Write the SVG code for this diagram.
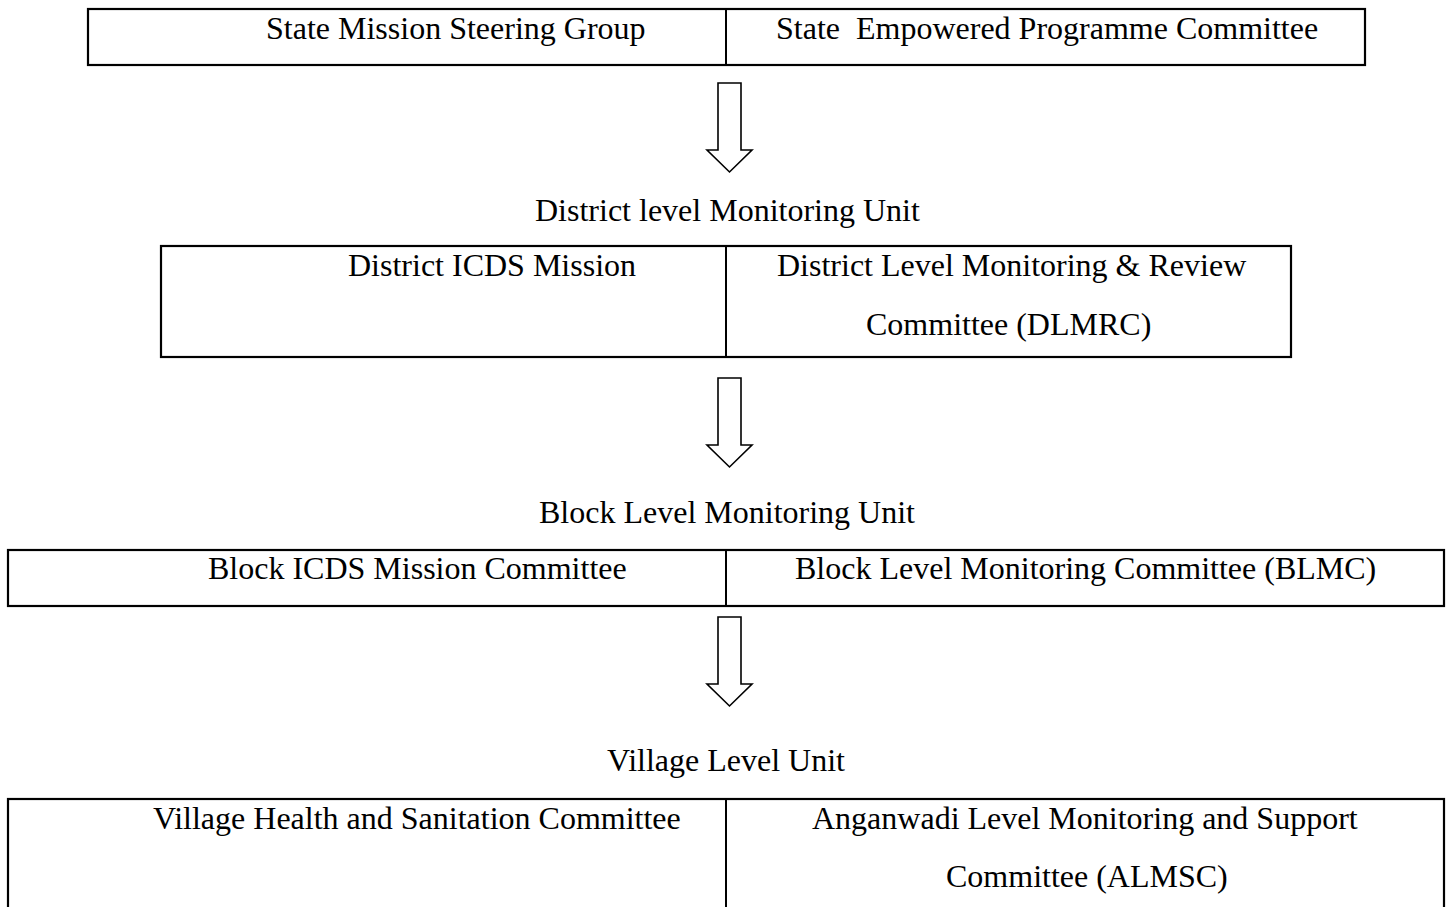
<svg xmlns="http://www.w3.org/2000/svg" width="1447" height="907" viewBox="0 0 1447 907">
  <style>
    .box { fill: #fff; stroke: #000; stroke-width: 2.2; }
    .div { stroke: #000; stroke-width: 2; }
    .arrow { fill: #fff; stroke: #000; stroke-width: 1.6; stroke-linejoin: miter; }
    text { font-family: "Liberation Serif", "Times New Roman", serif; font-size: 32px; fill: #000; white-space: pre; }
  </style>
  <defs>
    <!-- hollow block arrow pointing down, origin at top-left of shaft -->
    <path id="downArrow" class="arrow" d="M718,0 L741,0 L741,67 L752,67 L729.5,89 L707,67 L718,67 Z"/>
  </defs>
  <rect width="1447" height="907" fill="#fff"/>

  <g id="state-level">
    <rect class="box" x="88" y="9" width="1277" height="56"/>
    <line class="div" x1="726" y1="9" x2="726" y2="65"/>
    <text x="266" y="39">State Mission Steering Group</text>
    <text x="776" y="39" xml:space="preserve">State  Empowered Programme Committee</text>
  </g>

  <g id="district-label">
    <text x="535" y="221">District level Monitoring Unit</text>
  </g>

  <g id="district-level">
    <rect class="box" x="161" y="246" width="1130" height="111"/>
    <line class="div" x1="726" y1="246" x2="726" y2="357"/>
    <text x="348" y="276">District ICDS Mission</text>
    <text x="777" y="276">District Level Monitoring &amp; Review</text>
    <text x="866" y="335">Committee (DLMRC)</text>
  </g>

  <g id="block-label">
    <text x="539" y="523">Block Level Monitoring Unit</text>
  </g>

  <g id="block-level">
    <rect class="box" x="8" y="550" width="1436" height="56"/>
    <line class="div" x1="726" y1="550" x2="726" y2="606"/>
    <text x="208" y="579">Block ICDS Mission Committee</text>
    <text x="795" y="579">Block Level Monitoring Committee (BLMC)</text>
  </g>

  <g id="village-label">
    <text x="607" y="771">Village Level Unit</text>
  </g>

  <g id="village-level">
    <rect class="box" x="8" y="799" width="1436" height="130"/>
    <line class="div" x1="726" y1="799" x2="726" y2="907"/>
    <text x="153" y="829">Village Health and Sanitation Committee</text>
    <text x="812" y="829">Anganwadi Level Monitoring and Support</text>
    <text x="946" y="887">Committee (ALMSC)</text>
  </g>

  <g id="connectors">
    <use href="#downArrow" transform="translate(0,83)"/>
    <use href="#downArrow" transform="translate(0,378)"/>
    <use href="#downArrow" transform="translate(0,617)"/>
  </g>
</svg>
